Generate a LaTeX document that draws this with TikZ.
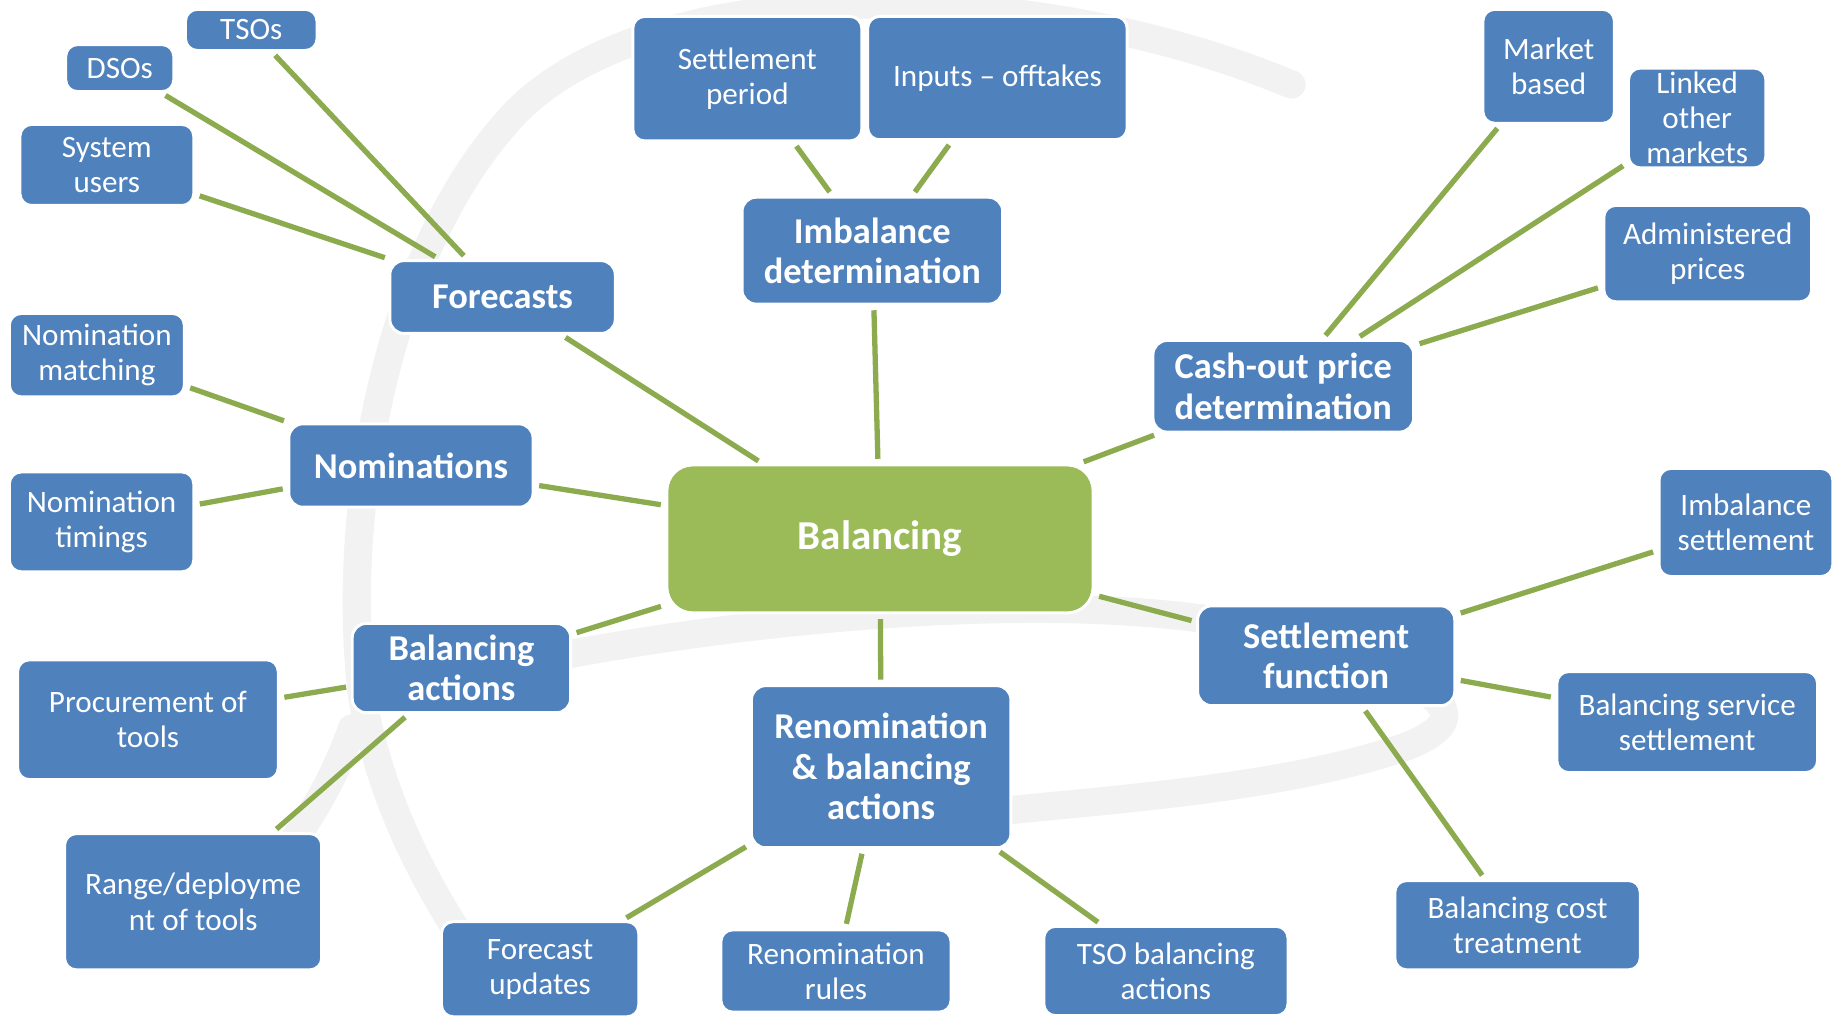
\documentclass[tikz,border=0pt]{standalone}
\usepackage{fontspec}
\setmainfont{Carlito}
\usetikzlibrary{backgrounds}
\definecolor{boxblue}{HTML}{4F81BD}
\definecolor{hubgreen}{HTML}{9BBB59}
\definecolor{linkgreen}{HTML}{8CAB4F}

\begin{document}
\begin{tikzpicture}[x=1pt,y=-1pt,
	leaf/.style={rectangle,rounded corners=10pt,fill=boxblue,draw=white,line width=2.5pt,
		text=white,align=center,inner sep=0pt,font=\fontsize{26.5}{30}\selectfont},
	topic/.style={leaf,rounded corners=12pt,font=\bfseries\fontsize{31}{34.5}\selectfont},
	hub/.style={leaf,fill=hubgreen,rounded corners=22pt,font=\bfseries\fontsize{35}{40}\selectfont},
	box/.style 2 args={minimum width=#1pt,minimum height=#2pt},
	link/.style={draw=linkgreen,line width=4.5pt,shorten >=4pt,shorten <=4pt},
	swirl/.style={draw=black!5,line width=24pt,line cap=round}]
	\useasboundingbox (0,0) rectangle (1568,866);

	% centre
	\node[hub,box={363}{126}] (bal) at (749.5,459) {Balancing};

	% main topics
	\node[topic,box={192}{62}] (forecasts) at (428,253) {Forecasts};
	\node[topic,box={222}{91}] (imbdet) at (743,213.5) {Imbalance\\determination};
	\node[topic,box={222}{78}] (cashout) at (1093,329) {Cash-out price\\determination};
	\node[topic,box={208}{71}] (nominations) at (350,396.5) {Nominations};
	\node[topic,box={186}{76}] (balact) at (393,569) {Balancing\\actions};
	\node[topic,box={221}{138}] (renom) at (750.5,653) {Renomination\\\& balancing\\actions};
	\node[topic,box={219}{85}] (setfunc) at (1129.5,558.5) {Settlement\\function};

	% leaves
	\node[leaf,box={112}{35}] (tso) at (214,25.5) {TSOs};
	\node[leaf,box={92}{40}] (dso) at (102,58) {DSOs};
	\node[leaf,box={148}{69}] (sysusers) at (91,140.5) {System\\users};
	\node[leaf,box={195}{106}] (setper) at (636.5,67) {Settlement\\period};
	\node[leaf,box={221}{105}] (inputs) at (849.5,66.5) {Inputs -- offtakes};
	\node[leaf,box={112}{97}] (market) at (1319,56.5) {Market\\based};
	\node[leaf,box={117}{85}] (linked) at (1445.5,100.5) {Linked\\other\\markets};
	\node[leaf,box={177}{82}] (admin) at (1454.5,216) {Administered\\prices};
	\node[leaf,box={149}{71}] (nommatch) at (82.5,302.5) {Nomination\\matching};
	\node[leaf,box={157}{85}] (nomtime) at (86.5,444.5) {Nomination\\timings};
	\node[leaf,box={222}{102}] (procure) at (126,613) {Procurement of\\tools};
	\node[leaf,box={219}{116}] (range) at (164.5,768) {Range/deployme\\nt of tools};
	\node[leaf,box={168}{81}] (fcupd) at (460,825.5) {Forecast\\updates};
	\node[leaf,box={196}{70}] (renrules) at (712,827) {Renomination\\rules};
	\node[leaf,box={208}{76}] (tsobal) at (993,827) {TSO balancing\\actions};
	\node[leaf,box={148}{92}] (imbset) at (1487,445) {Imbalance\\settlement};
	\node[leaf,box={222}{86}] (balserv) at (1437,615) {Balancing service\\settlement};
	\node[leaf,box={209}{76}] (balcost) at (1292.5,788) {Balancing cost\\treatment};

	\begin{scope}[on background layer]
		\fill[white] (0,0) rectangle (1568,866);
		% faint swirl behind the map
		\draw[swirl] (1100,72) .. controls (880,-20) and (560,-25) .. (440,95)
			.. controls (330,210) and (290,430) .. (308,590)
			.. controls (330,720) and (400,810) .. (440,866);
		\draw[swirl] (300,620) .. controls (275,690) and (240,730) .. (205,775);
		\draw[swirl] (470,560) .. controls (650,525) and (950,495) .. (1110,545)
			.. controls (1230,585) and (1260,610) .. (1200,635)
			.. controls (1100,670) and (960,680) .. (860,690);
		\foreach \a/\b in {bal/forecasts,bal/imbdet,bal/cashout,bal/nominations,bal/balact,bal/renom,bal/setfunc,
			forecasts/tso,forecasts/dso,forecasts/sysusers,imbdet/setper,imbdet/inputs,
			cashout/market,cashout/linked,cashout/admin,nominations/nommatch,nominations/nomtime,
			balact/procure,balact/range,renom/fcupd,renom/renrules,renom/tsobal,
			setfunc/imbset,setfunc/balserv,setfunc/balcost}
			\draw[link] (\a) -- (\b);
	\end{scope}
\end{tikzpicture}
\end{document}
